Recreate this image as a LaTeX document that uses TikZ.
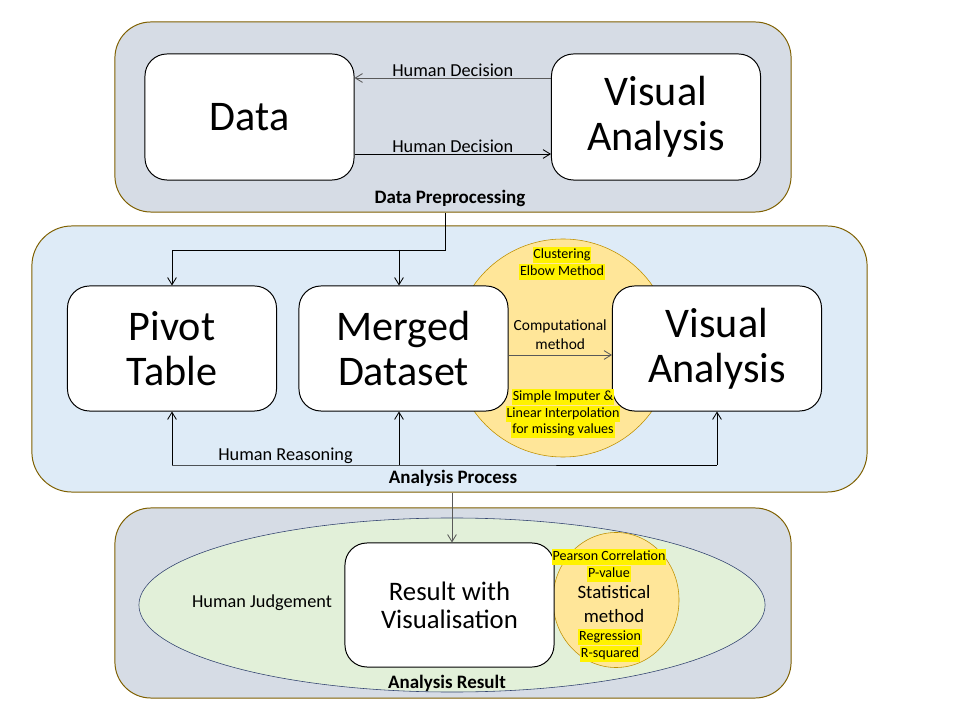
\documentclass[tikz,border=0pt]{standalone}
\usepackage{fontspec}
\setmainfont{Carlito}
\usetikzlibrary{arrows.meta,calc,positioning,shapes.geometric}

\definecolor{frame}{RGB}{127,96,0}
\definecolor{slate}{RGB}{214,220,229}
\definecolor{skyfill}{RGB}{222,235,247}
\definecolor{sand}{RGB}{255,230,153}
\definecolor{sandline}{RGB}{191,144,0}
\definecolor{sage}{RGB}{226,240,217}
\definecolor{navy}{RGB}{47,64,110}
\definecolor{dgray}{RGB}{89,89,89}

\begin{document}
\begin{tikzpicture}[x=0.025cm,y=-0.025cm,
    stage/.style={draw=frame,line width=0.7pt,rounded corners=0.9cm,inner sep=0pt},
    box/.style={draw,fill=white,line width=0.7pt,rounded corners=0.55cm,inner sep=0pt,
        minimum width=5.225cm,minimum height=3.15cm,align=center,font=\fontsize{30}{32}\selectfont},
    hl/.style={fill=yellow,inner xsep=0.6pt,inner ysep=0.6pt,text height=7.8pt,text depth=2.4pt,
        font=\fontsize{10}{12}\selectfont},
    lbl/.style={font=\fontsize{13}{15}\selectfont,inner sep=1pt},
    ttl/.style={font=\bfseries\fontsize{13.5}{15}\selectfont},
    arr/.style={-{Straight Barb[length=1.8mm,width=2.2mm]},line width=0.6pt}]
\useasboundingbox (0,0) rectangle (960,720);

% stages
\node[stage,fill=slate,minimum width=16.9cm,minimum height=4.75cm] (prep) at (453,117) {};
\node[stage,fill=skyfill,minimum width=20.875cm,minimum height=6.65cm,rounded corners=1cm] (proc) at (449.5,359) {};
\node[stage,fill=slate,minimum width=16.9cm,minimum height=4.75cm] (res) at (453,603) {};

% data preprocessing
\node[box] (data) at (249.5,117) {Data};
\node[box] (vis1) at (656,117) {Visual\\Analysis};
\draw[arr,dgray] ($(vis1.west)+(0,-39)$) -- node[above,lbl,black]{Human Decision} ($(data.east)+(0,-39)$);
\draw[arr] ($(data.east)+(0,37)$) -- node[above,lbl]{Human Decision} ($(vis1.west)+(0,37)$);
\node[ttl] at (450,198) {Data Preprocessing};

% analysis process
\node[draw=sandline,fill=sand,circle,minimum size=5.45cm,inner sep=0pt] (comp) at (563,348) {};
\node[box,minimum height=3.125cm] (pivot) at (172,348.5) {Pivot\\Table};
\node[box,minimum height=3.125cm] (merged) at (403.5,348.5) {Merged\\Dataset};
\node[box,minimum height=3.125cm] (vis2) at (717,348.5) {Visual\\Analysis};

\coordinate (split) at (445,250);
\coordinate (mtop) at ($(merged.north)+(-4.5,0)$);
\coordinate (mbot) at ($(merged.south)+(-4.5,0)$);
\draw[arr] ($(prep.south)+(-8,0)$) -- (split) -| (pivot.north);
\draw[arr] (mtop |- split) -- (mtop);

\draw[arr,dgray] ($(merged.east)+(0,6.5)$) -- node[above,align=center,font=\fontsize{11}{13.5}\selectfont,black]{Computational\\method} ($(vis2.west)+(0,6.5)$);

\node[hl] (clus) at (562,255) {Clustering};
\node[hl,below=0pt of clus] {Elbow Method};
\node[hl] (imp) at (563,397) {Simple Imputer \&};
\node[hl,below=0pt of imp] (lin) {Linear Interpolation};
\node[hl,below=0pt of lin] {for missing values};

\coordinate (bus) at (0,465);
\draw (pivot.south |- bus) -- node[above,lbl]{Human Reasoning} (mbot |- bus) -- (vis2.south |- bus);
\foreach \n in {pivot.south,mbot,vis2.south}
    \draw[arr] (\n |- bus) -- (\n);
\node[ttl] at (453,478) {Analysis Process};

% analysis result
\node[draw=navy,fill=sage,ellipse,minimum width=15.65cm,minimum height=4.35cm,inner sep=0pt] (judge) at (452,605) {};
\node[draw=sandline,fill=sand,ellipse,minimum width=3.15cm,minimum height=3.375cm,inner sep=0pt] (stat) at (616,600) {};
\node[box,minimum height=3.1cm,font=\fontsize{19}{20}\selectfont] (result) at (449.5,605) {Result with\\Visualisation};
\draw[arr,dgray] ($(proc.south)+(2.5,0)$) -- ($(result.north)+(2.5,0)$);

\node[align=center,font=\fontsize{13.4}{16.4}\selectfont] (statm) at (614,604) {Statistical\\method};
\node[hl] (pear) at (609,557) {Pearson Correlation};
\node[hl,below=0pt of pear] {P-value};
\node[hl] (regr) at (610,637) {Regression};
\node[hl,below=0pt of regr] {R-squared};
\node[lbl] at (262,603) {Human Judgement};
\node[ttl] at (447,683) {Analysis Result};
\end{tikzpicture}
\end{document}
